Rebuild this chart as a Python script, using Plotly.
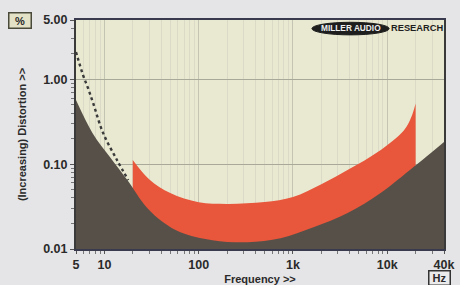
import plotly.graph_objects as go

# ---- data ----
floor_freq = [5, 7.5, 11.5, 17.5, 28, 42, 64, 140, 330, 740, 1650, 3800, 8500, 19000, 29000, 40000]
floor_val = [0.57, 0.232, 0.121, 0.065, 0.031, 0.0207, 0.0158, 0.0127, 0.012, 0.0134, 0.018, 0.0265, 0.0456, 0.0924, 0.135, 0.182]

band_freq = [20, 30, 50, 100, 200, 500, 1000, 2000, 4000, 8000, 15000, 18000, 20000]
band_top = [0.112, 0.066, 0.0456, 0.0355, 0.034, 0.0357, 0.041, 0.058, 0.088, 0.14, 0.25, 0.36, 0.52]

dot_freq = [5, 5.94, 6.7, 7.6, 9.7, 13.6, 17.9]
dot_val = [2.1, 1.12, 0.79, 0.525, 0.232, 0.112, 0.065]

x_ticks = [5, 10, 100, 1000, 10000, 40000]
x_labels = ["5", "10", "100", "1k", "10k", "40k"]
y_ticks = [0.01, 0.1, 1, 5]
y_labels = ["0.01", "0.10", "1.00", "5.00"]

x_minor = [m * d for d in (1, 10, 100, 1000) for m in range(2, 10)] + [20000, 30000]
x_minor = [v for v in x_minor if 5 <= v <= 40000 and v not in x_ticks]
y_minor = [m * d for d in (0.01, 0.1, 1) for m in range(2, 10)]
y_minor = [v for v in y_minor if v <= 5 and v not in y_ticks]

FONT = "Liberation Sans, Arial, sans-serif"
RED = "#e8563b"
DARK = "#575048"
TXT = "#2a2a2a"

fig = go.Figure()
fig.add_trace(go.Scatter(x=band_freq, y=band_top, mode="lines", line=dict(color=RED, width=0, shape="spline"),
                         fill="tozeroy", fillcolor=RED, hoverinfo="skip"))
fig.add_trace(go.Scatter(x=floor_freq, y=floor_val, mode="lines", line=dict(color=DARK, width=0, shape="spline"),
                         fill="tozeroy", fillcolor=DARK, hoverinfo="skip"))
fig.add_trace(go.Scatter(x=dot_freq, y=dot_val, mode="lines", line=dict(color="#3a3a3a", width=2.4, dash="dot", shape="spline"),
                         hoverinfo="skip"))

fig.update_layout(
    width=460, height=285,
    margin=dict(l=76, r=16, t=20, b=36, autoexpand=False),
    paper_bgcolor="#e5e4e6",
    plot_bgcolor="#e9e9d2",
    showlegend=False,
    font=dict(family=FONT, color=TXT),
)
fig.update_xaxes(
    type="log", range=[0.69897, 4.60206], automargin=False,
    tickmode="array", tickvals=x_ticks, ticktext=["<b>%s</b>" % t for t in x_labels],
    tickfont=dict(size=12.5, family=FONT, color=TXT),
    ticks="outside", ticklen=3, tickcolor="#555",
    showgrid=True, gridcolor="#c4c4b2", gridwidth=1,
    minor=dict(tickmode="array", tickvals=x_minor, ticks="outside", ticklen=3, tickcolor="#777",
               showgrid=True, gridcolor="#dadac6", gridwidth=1),
    showline=True, linecolor="#3a3a4e", linewidth=2, mirror=True,
    title=dict(text="<b>Frequency >></b>", font=dict(size=11, family=FONT, color=TXT), standoff=4),
)
fig.update_yaxes(
    type="log", range=[-2, 0.69897], automargin=False,
    tickmode="array", tickvals=y_ticks, ticktext=["<b>%s</b>" % t for t in y_labels],
    tickfont=dict(size=12.5, family=FONT, color=TXT),
    ticks="outside", ticklen=4, tickcolor="#555",
    showgrid=True, gridcolor="#a9a99a", gridwidth=1,
    minor=dict(tickmode="array", tickvals=y_minor, ticks="outside", ticklen=3, tickcolor="#777", showgrid=False),
    showline=True, linecolor="#3a3a3a", linewidth=2, mirror=True,
    title=dict(text="<b>(Increasing) Distortion >></b>", font=dict(size=11, family=FONT, color=TXT), standoff=14),
)

# unit boxes
fig.add_annotation(xref="paper", yref="paper", x=-0.151, y=1.0, xanchor="center", yanchor="middle",
                   text="<b>%</b>", showarrow=False, font=dict(size=11, family=FONT, color=TXT),
                   bordercolor="#4a4a3a", borderwidth=1.5, borderpad=1, bgcolor="#e3e2c6", width=19)
fig.add_annotation(xref="paper", yref="paper", x=0.989, y=-0.127, xanchor="center", yanchor="middle",
                   text="<b>Hz</b>", showarrow=False, font=dict(size=11, family=FONT, color=TXT),
                   bordercolor="#333", borderwidth=1.5, borderpad=0, bgcolor="#ecebec", width=20, height=13)

# logo
fig.add_shape(type="circle", xref="paper", yref="paper", x0=0.641, x1=0.851, y0=0.935, y1=0.99,
              fillcolor="#1e1e1e", line=dict(color="#1e1e1e", width=1), layer="above")
fig.add_annotation(xref="paper", yref="paper", x=0.746, y=0.963, text="<b>MILLER AUDIO</b>", showarrow=False,
                   font=dict(size=8.3, family=FONT, color="#f0f0f0"), xanchor="center", yanchor="middle")
fig.add_annotation(xref="paper", yref="paper", x=0.851, y=0.966, text="<b>RESEARCH</b>", showarrow=False,
                   font=dict(size=9.3, family=FONT, color="#1e1e1e"), xanchor="left", yanchor="middle")

fig.write_html("out.html", config={"displayModeBar": False},
               post_script="document.body.style.margin='0';document.body.style.overflow='hidden';")
